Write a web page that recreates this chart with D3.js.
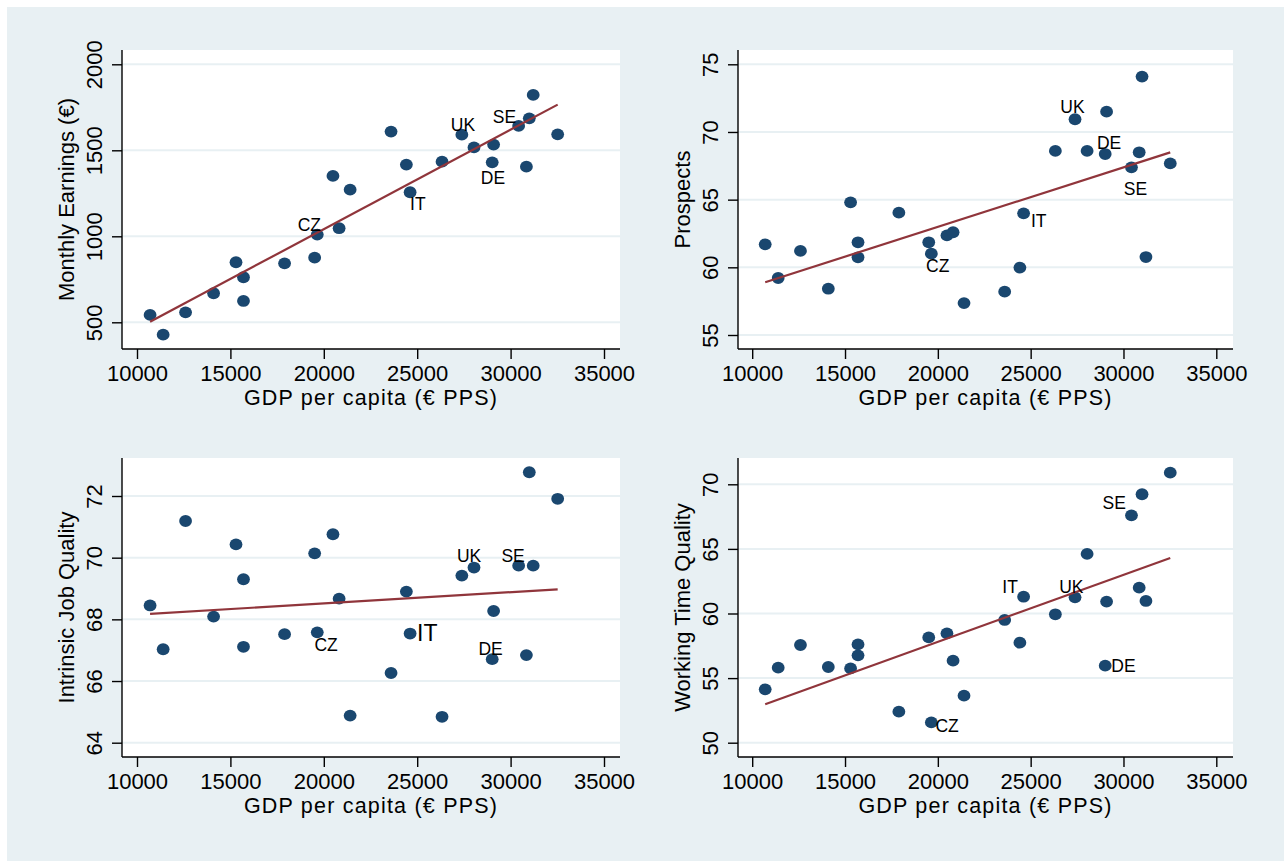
<!DOCTYPE html>
<html>
<head>
<meta charset="utf-8">
<script src="https://cdn.jsdelivr.net/npm/d3@7"></script>
<style>
  body { margin: 0; background: #fff; }
  text { font-family: "Liberation Sans", Arial, Helvetica, sans-serif; fill: #000; }
</style>
</head>
<body>
<div id="chart"></div>
<script>
// country data, index aligned (GDP per capita in PPS)
const labels = ["", "", "", "", "", "", "", "", "", "CZ", "", "", "", "", "", "IT", "", "UK", "", "", "DE", "SE", "", "", "", ""];
const gdp = [10700, 11400, 12600, 14100, 15300, 15700, 15700, 17900, 19510, 19650, 20490, 20820, 21410, 23600, 24420, 24620, 26330, 27390, 28040, 29090, 29015, 30430, 30846, 31000, 31210, 32520];
const earnings = [543, 428, 558, 669, 849, 762, 624, 843, 876, 1010, 1351, 1047, 1271, 1609, 1417, 1256, 1434, 1591, 1517, 1533, 1430, 1642, 1405, 1686, 1822, 1593];
const prospects = [61.70, 59.21, 61.21, 58.42, 64.80, 61.85, 60.74, 64.04, 61.85, 61.01, 62.36, 62.59, 57.36, 58.20, 59.98, 63.99, 68.60, 70.94, 68.60, 71.50, 68.37, 67.39, 68.50, 74.09, 60.76, 67.68];
const intrinsic = [68.45, 67.03, 71.19, 68.09, 70.43, 69.30, 67.11, 67.52, 70.14, 67.58, 70.76, 68.67, 64.88, 66.26, 68.90, 67.54, 64.84, 69.42, 69.68, 68.27, 66.71, 69.74, 66.84, 72.77, 69.74, 71.91];
const workingTime = [54.13, 55.81, 57.56, 55.86, 55.75, 57.61, 56.76, 52.40, 58.15, 51.57, 58.46, 56.35, 53.64, 59.50, 57.74, 61.30, 59.94, 61.25, 64.61, 60.92, 55.96, 67.60, 62.00, 69.23, 60.97, 70.90];

const gdpTicks = [10000, 15000, 20000, 25000, 30000, 35000];
const earningsTicks = [500, 1000, 1500, 2000];
const prospectsTicks = [55, 60, 65, 70, 75];
const intrinsicTicks = [64, 66, 68, 70, 72];
const workingTicks = [50, 55, 60, 65, 70];

const xTitle = "GDP per capita (€ PPS)";

// colours (Stata s2color look)
const bg = "#e8f0f3", grid = "#e8f0f3", navy = "#1a476f", maroon = "#90353b";

// panel layout; lab = label offsets [dx, dy, size] from the marker centre
const panels = [
  {vals: earnings, ticks: earningsTicks, title: "Monthly Earnings (€)",
   left: 122, right: 620, top: 50, bottom: 349, xr: [137, 604], yr: [322.3, 64.3],
   lab: {CZ: [-19.6, -3.7], IT: [0, 17.7], UK: [-11, -4], SE: [-25.8, -3.3], DE: [-11.4, 21.7]}},
  {vals: prospects, ticks: prospectsTicks, title: "Prospects",
   left: 738, right: 1233, top: 50, bottom: 349, xr: [752.2, 1216.3], yr: [335, 64.3],
   lab: {UK: [-14.7, -6.6], DE: [-8.2, -4.7], SE: [-7.7, 27.7], IT: [7.3, 14], CZ: [-5.3, 18]}},
  {vals: intrinsic, ticks: intrinsicTicks, title: "Intrinsic Job Quality",
   left: 122, right: 620, top: 458, bottom: 757, xr: [137, 604], yr: [742.7, 496],
   lab: {UK: [-4.9, -14], SE: [-17.2, -4], CZ: [-2.8, 18.4], IT: [6.9, 7, 23], DE: [-13.8, -4]}},
  {vals: workingTime, ticks: workingTicks, title: "Working Time Quality",
   left: 738, right: 1233, top: 458, bottom: 757, xr: [752.2, 1216.3], yr: [742.7, 484.3],
   lab: {SE: [-29, -6.3], IT: [-21.3, -3.4], UK: [-15.9, -4], DE: [6.1, 6], CZ: [4.1, 10]}}
];

const W = 1284, H = 861;
const svg = d3.select("#chart").append("svg")
    .attr("width", W)
    .attr("height", H);

// graph region
svg.append("rect")
    .attr("x", 7).attr("y", 7)
    .attr("width", W - 7).attr("height", H - 7)
    .attr("fill", bg);

panels.forEach(p => {
  const g = svg.append("g");
  const x = d3.scaleLinear().domain(d3.extent(gdpTicks)).range(p.xr);
  const y = d3.scaleLinear().domain(d3.extent(p.ticks)).range(p.yr);

  // plot region
  g.append("rect")
      .attr("x", p.left).attr("y", p.top)
      .attr("width", p.right - p.left).attr("height", p.bottom - p.top)
      .attr("fill", "#fff");

  // gridlines
  g.selectAll(".grid")
    .data(p.ticks)
    .join("line")
      .attr("x1", p.left).attr("x2", p.right)
      .attr("y1", d => y(d)).attr("y2", d => y(d))
      .attr("stroke", grid)
      .attr("stroke-width", 2);

  // y axis
  const ya = g.append("g")
      .attr("transform", `translate(${p.left},0)`)
      .call(d3.axisLeft(y).tickValues(p.ticks).tickSize(10).tickFormat(d3.format("d")));
  ya.select(".domain").remove();
  ya.selectAll(".tick line").attr("stroke", "#000").attr("stroke-width", 1.4);
  ya.selectAll(".tick text")
      .attr("x", 0).attr("dy", 0)
      .attr("transform", "translate(-20,0) rotate(-90)")
      .attr("text-anchor", "middle")
      .style("font-size", "22px")
      .style("font-family", "'Liberation Sans', Arial, sans-serif");

  // x axis
  const xa = g.append("g")
      .attr("transform", `translate(0,${p.bottom})`)
      .call(d3.axisBottom(x).tickValues(gdpTicks).tickSize(10).tickFormat(d3.format("d")));
  xa.select(".domain").remove();
  xa.selectAll(".tick line").attr("stroke", "#000").attr("stroke-width", 1.4);
  xa.selectAll(".tick text")
      .attr("y", 31.5).attr("dy", 0)
      .style("font-size", "22px")
      .style("font-family", "'Liberation Sans', Arial, sans-serif");

  // axis lines
  g.append("line")
      .attr("x1", p.left).attr("x2", p.left)
      .attr("y1", p.top).attr("y2", p.bottom)
      .attr("stroke", "#000").attr("stroke-width", 1.4);
  g.append("line")
      .attr("x1", p.left).attr("x2", p.right)
      .attr("y1", p.bottom).attr("y2", p.bottom)
      .attr("stroke", "#000").attr("stroke-width", 1.4);

  // axis titles
  g.append("text")
      .attr("x", (p.left + p.right) / 2)
      .attr("y", p.bottom + 56)
      .attr("text-anchor", "middle")
      .style("font-size", "21.5px")
      .style("letter-spacing", "1.2px")
      .text(xTitle);
  g.append("text")
      .attr("transform", `translate(${p.left - 48},${(p.top + p.bottom) / 2}) rotate(-90)`)
      .attr("text-anchor", "middle")
      .style("font-size", "22px")
      .text(p.title);

  const pts = gdp.map((v, i) => ({x: v, y: p.vals[i], label: labels[i]}));

  // markers
  g.selectAll(".dot")
    .data(pts)
    .join("ellipse")
      .attr("cx", d => x(d.x))
      .attr("cy", d => y(d.y))
      .attr("rx", 6.4)
      .attr("ry", 5.9)
      .attr("fill", navy);

  // linear fit over the data range
  const mx = d3.mean(pts, d => d.x), my = d3.mean(pts, d => d.y);
  const b = d3.sum(pts, d => (d.x - mx) * (d.y - my)) / d3.sum(pts, d => (d.x - mx) ** 2);
  const a = my - b * mx;
  const xs = d3.extent(pts, d => d.x);
  g.append("path")
      .datum(xs.map(v => [v, a + b * v]))
      .attr("d", d3.line().x(d => x(d[0])).y(d => y(d[1])))
      .attr("fill", "none")
      .attr("stroke", maroon)
      .attr("stroke-width", 2.2);

  // country labels
  g.selectAll(".lab")
    .data(pts.filter(d => d.label))
    .join("text")
      .attr("x", d => x(d.x) + p.lab[d.label][0])
      .attr("y", d => y(d.y) + p.lab[d.label][1])
      .style("font-size", d => (p.lab[d.label][2] || 17.5) + "px")
      .text(d => d.label);
});
</script>
</body>
</html>
